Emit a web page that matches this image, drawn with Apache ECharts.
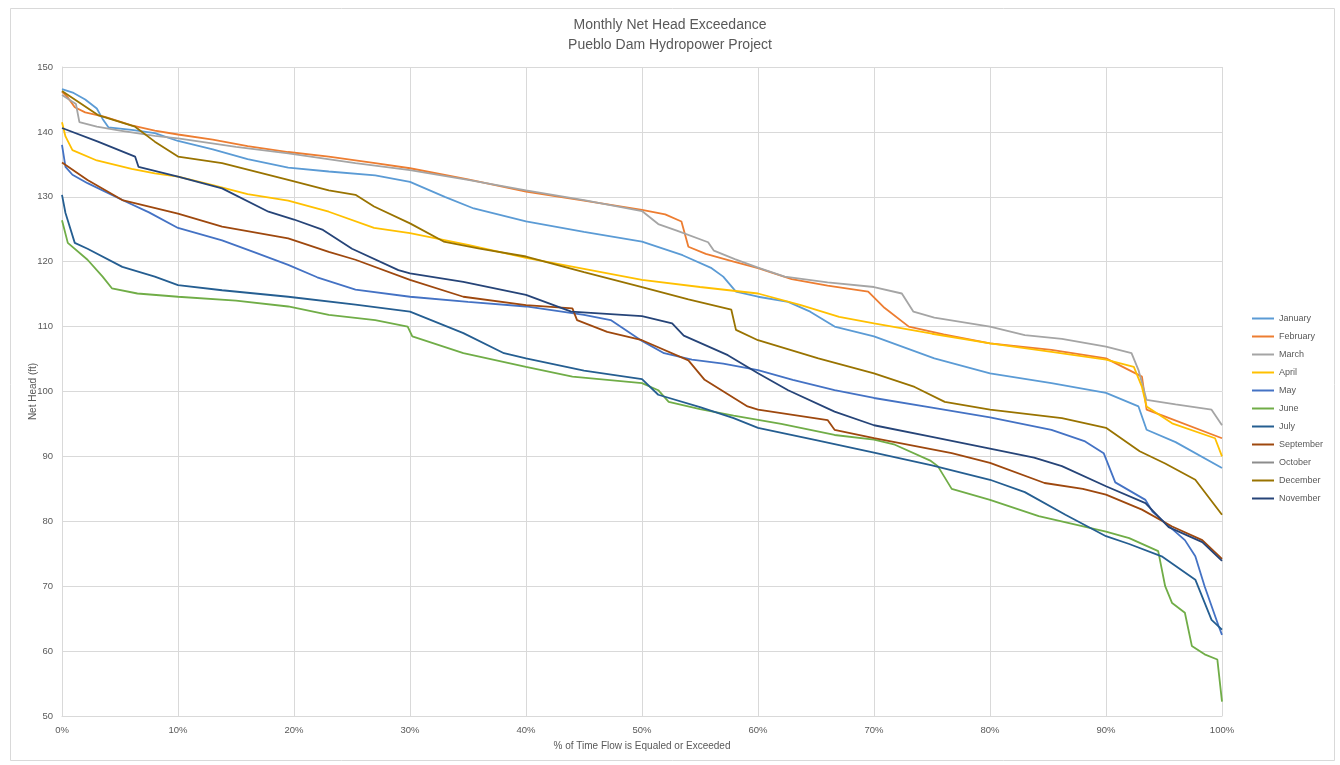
<!DOCTYPE html>
<html>
<head>
<meta charset="utf-8">
<script src="https://cdn.jsdelivr.net/npm/echarts@6/dist/echarts.min.js"></script>
<style>
html,body{margin:0;padding:0;background:#fff;}
#chart{width:1340px;height:765px;}
</style>
</head>
<body>
<div id="chart"></div>
<script>
// x = % of time flow is equaled or exceeded, y = net head (ft)
const xTicks = [0,10,20,30,40,50,60,70,80,90,100];
const seriesNames = ['January','February','March','April','May','June','July','September','October','December','November'];

const january = [[0,146.6],[1,146],[2,145],[3,143.6],[3.5,142],[4,140.7],[6,140.3],[8,139.8],[10,138.6],[13,137.3],[16,135.8],[19.5,134.5],[23,133.9],[27,133.3],[30,132.3],[33,130],[35.5,128.2],[40,126.2],[45,124.6],[50,123.1],[53.5,121],[56,119],[57,117.7],[58.1,115.4],[60,114.6],[62.6,113.8],[64.5,112.3],[66.6,110],[70,108.5],[75.2,105.1],[80,102.8],[85.3,101.3],[90,99.8],[92.8,97.7],[93.5,94.1],[96,92.2],[100,88.2]];
const february = [[0,146.2],[0.5,145.3],[1.1,143.8],[2,143],[3.7,142.3],[6,141],[8,140.2],[10,139.6],[13,138.8],[16,137.8],[19.5,136.9],[23,136.2],[27,135.2],[30,134.4],[35,132.7],[40,130.8],[45,129.4],[50,128],[52,127.3],[53.4,126.2],[54,122.3],[55.5,121.2],[57.9,120],[60,119],[62.9,117.3],[66,116.3],[69.5,115.4],[70.9,112.9],[73,110],[76,108.8],[80,107.4],[85.3,106.4],[90,105.1],[93.1,102.3],[93.5,97.2],[95,96.2],[100,92.8]];
const march = [[0,145.7],[1.2,144.3],[1.5,141.5],[3,140.8],[5,140.2],[8,139.4],[10,139],[15,137.7],[19.5,136.7],[25.3,135.2],[30,134.1],[35,132.6],[40,131],[45,129.5],[50,127.8],[51.4,125.8],[53,124.8],[55.7,123],[56.2,121.7],[58,120.4],[60,119.1],[62.3,117.7],[66,116.8],[70,116.1],[72.4,115.1],[73.4,112.3],[75.2,111.4],[80,110],[83,108.7],[86.2,108.1],[90,106.9],[92.2,105.9],[92.8,103.3],[93.5,98.7],[96,98],[99.1,97.2],[100,94.8]];
const april = [[0,141.5],[0.3,139.3],[0.9,137.2],[3,135.6],[6,134.3],[8,133.6],[10,133.1],[13,131.8],[16,130.4],[19.5,129.4],[23,127.7],[26.9,125.2],[30,124.4],[35,122.6],[40,120.6],[45,118.9],[50,117.2],[55,116.1],[60,115.1],[63.7,113.3],[67,111.5],[70,110.5],[75,108.9],[80,107.4],[85.3,106.1],[90,104.9],[92.4,103.8],[93.1,100.7],[93.5,97.7],[95.7,95.1],[99.4,92.8],[100,90]];
const may = [[0,138],[0.3,134.6],[0.9,133.4],[2.2,132.1],[5.2,129.5],[7.5,127.6],[10,125.2],[13.8,123.3],[16.5,121.5],[19.5,119.5],[22,117.6],[25.3,115.7],[30,114.6],[35,113.8],[40,113.1],[45,111.8],[47.3,111],[50,107.8],[51.9,105.9],[54.3,104.9],[57,104.3],[60,103.3],[63,101.8],[66.6,100.2],[70,99],[75,97.5],[80,96],[85.3,94.1],[88.2,92.3],[89.8,90.5],[90.8,86],[93.4,83.3],[94,81.5],[96.8,77.1],[97.7,74.6],[98.5,70],[99.7,63.9],[100,62.5]];
const june = [[0,126.4],[0.5,122.9],[2.2,120.3],[3.5,117.7],[4.3,115.9],[6.5,115.1],[10,114.6],[15,114],[19.5,113.1],[23,111.8],[27,111],[29.8,110],[30.2,108.5],[34.6,105.9],[40,103.8],[44,102.3],[50,101.3],[51.4,100.2],[52.3,98.4],[55,97.3],[57.9,96.3],[62,95],[66.6,93.3],[70,92.6],[71.8,91.8],[74.9,89.3],[75.5,88.5],[76.7,85],[80,83.3],[84.2,80.8],[90,78.4],[92,77.4],[94.5,75.4],[95.1,70],[95.7,67.4],[96.8,65.9],[97.4,60.8],[98.5,59.5],[99.6,58.7],[100,52.2]];
const july = [[0,130.3],[0.3,127.5],[1.1,122.9],[2.2,122],[5.2,119.2],[8,117.7],[10,116.4],[13.8,115.6],[19.5,114.6],[25.3,113.4],[30,112.3],[34.6,109],[38.1,105.9],[40,105.1],[45,103.2],[50,101.9],[51.4,99.5],[55,97.6],[57.9,95.9],[60,94.4],[65,92.5],[70,90.6],[75,88.6],[80,86.4],[83,84.5],[86.5,81],[90,77.7],[92,76.5],[94.8,74.6],[97.7,71],[99.1,64.8],[100,63.3]];
const september = [[0,135.3],[2.2,132.6],[5.2,129.5],[10,127.4],[13.8,125.4],[19.5,123.6],[23,121.5],[25.3,120.3],[30,117.2],[34.6,114.6],[40,113.3],[44,112.8],[44.4,111],[47,109.2],[50,107.9],[54,104.8],[55.4,101.8],[59.1,97.7],[60,97.2],[66,95.6],[66.6,94.1],[70,92.8],[76.7,90.5],[80,89],[84.7,85.9],[88,85],[90,84.1],[93.1,81.8],[95.7,79.2],[98.3,77.1],[100,74.2]];
const october = [];
const december = [[0,146.3],[3.1,142.6],[6.3,140.8],[8,138.5],[10,136.2],[13.8,135.2],[19.5,132.6],[23,131],[25.3,130.3],[26.9,128.5],[30,125.9],[32.9,123.1],[36,122],[40,120.8],[45,118.4],[50,116.1],[54,114.2],[57.7,112.6],[58.1,109.5],[60,107.9],[65.2,105.1],[70,102.8],[73.5,100.7],[76.1,98.4],[80,97.2],[86.2,95.9],[90,94.4],[92.9,90.8],[95.1,88.9],[97.7,86.4],[100,81]];
const november = [[0,140.6],[3.1,138.5],[6.3,136.2],[6.6,134.6],[10,133.1],[13.8,131.3],[17.8,127.7],[20,126.5],[22.5,124.9],[25,122],[29,118.7],[30,118.2],[34.6,116.9],[40,114.9],[43.9,112.3],[50,111.6],[52.6,110.5],[53.6,108.6],[57.4,105.6],[60,102.8],[62.6,100.2],[66.6,96.9],[70,94.8],[75,93],[80,91.2],[83.8,89.8],[86.2,88.5],[90,85.4],[93.4,82.8],[95.4,79.1],[98.3,76.8],[100,73.9]];

const seriesData = [january,february,march,april,may,june,july,september,october,december,november];
const colors = ['#5B9BD5','#ED7D31','#A5A5A5','#FFC000','#4472C4','#70AD47','#255E91','#9E480E','#8C8C8C','#997300','#264478'];

const FONT = 'Liberation Sans, Arial, sans-serif';
const chart = echarts.init(document.getElementById('chart'));
chart.setOption({
  animation: false,
  backgroundColor: '#ffffff',
  color: colors,
  graphic: [{
    type: 'rect', left: 8, top: 6,
    shape: {width: 1324, height: 752},
    style: {fill: 'none', stroke: '#D9D9D9', lineWidth: 1},
    silent: true
  }],
  title: {
    text: 'Monthly Net Head Exceedance\nPueblo Dam Hydropower Project',
    left: 'center', top: 10,
    textStyle: {fontFamily: FONT, fontSize: 14, fontWeight: 'normal', color: '#595959', lineHeight: 20}
  },
  legend: {
    orient: 'vertical', left: 1246, top: 309,
    itemWidth: 22, itemHeight: 10, itemGap: 9,
    data: seriesNames,
    itemStyle: {opacity: 0},
    lineStyle: {width: 2},
    textStyle: {fontFamily: FONT, fontSize: 9, color: '#595959'}
  },
  grid: {left: 62, right: 118, top: 67, bottom: 49, containLabel: false},
  xAxis: {
    type: 'value', min: 0, max: 100, interval: 10,
    name: '% of Time Flow is Equaled or Exceeded',
    nameLocation: 'middle', nameGap: 25, nameMoveOverlap: false,
    nameTextStyle: {fontFamily: FONT, fontSize: 10, color: '#595959'},
    axisLine: {show: true, lineStyle: {color: '#D9D9D9', width: 1}},
    axisTick: {show: false},
    axisLabel: {formatter: '{value}%', fontFamily: FONT, fontSize: 9.5, color: '#595959', margin: 9},
    splitLine: {show: true, lineStyle: {color: '#D9D9D9', width: 1}}
  },
  yAxis: {
    type: 'value', min: 50, max: 150, interval: 10,
    name: 'Net Head (ft)', nameLocation: 'middle', nameGap: 24, nameRotate: 90, nameMoveOverlap: false,
    nameTextStyle: {fontFamily: FONT, fontSize: 10, color: '#595959'},
    axisLine: {show: true, lineStyle: {color: '#D9D9D9', width: 1}},
    axisTick: {show: false},
    axisLabel: {fontFamily: FONT, fontSize: 9.5, color: '#595959', margin: 9},
    splitLine: {show: true, lineStyle: {color: '#D9D9D9', width: 1}}
  },
  series: seriesNames.map((name, i) => ({
    name: name,
    type: 'line',
    data: seriesData[i],
    symbol: 'none',
    showSymbol: false,
    smooth: false,
    lineStyle: {width: 1.8, color: colors[i]},
    itemStyle: {color: colors[i]}
  }))
});
</script>
</body>
</html>
